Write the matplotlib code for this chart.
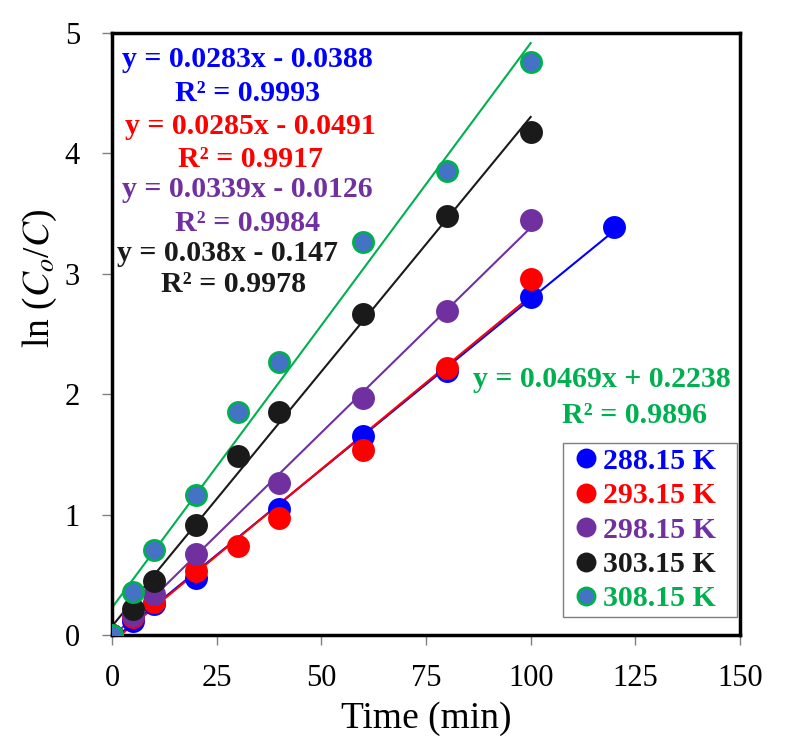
import numpy as np
import matplotlib
matplotlib.use("Agg")
import matplotlib.pyplot as plt

plt.rcParams['font.family'] = ['Liberation Serif', 'DejaVu Serif']
plt.rcParams['mathtext.fontset'] = 'stix'

# Data
labels = ["288.15 K", "293.15 K", "298.15 K", "303.15 K", "308.15 K"]

t_288 = [0, 5, 10, 20, 40, 60, 80, 100, 120]
y_288 = [0, 0.12, 0.26, 0.47, 1.05, 1.65, 2.19, 2.81, 3.39]

t_293 = [0, 5, 10, 20, 30, 40, 60, 80, 100]
y_293 = [0, 0.15, 0.27, 0.53, 0.74, 0.97, 1.54, 2.22, 2.96]

t_298 = [0, 5, 10, 20, 40, 60, 80, 100]
y_298 = [0, 0.17, 0.34, 0.67, 1.26, 1.97, 2.69, 3.45]

t_303 = [0, 5, 10, 20, 30, 40, 60, 80, 100]
y_303 = [0, 0.22, 0.45, 0.91, 1.49, 1.85, 2.67, 3.48, 4.18]

t_308 = [0, 5, 10, 20, 30, 40, 60, 80, 100]
y_308 = [0, 0.36, 0.71, 1.16, 1.85, 2.27, 3.26, 3.85, 4.76]

equations = ["y = 0.0283x - 0.0388", "y = 0.0285x - 0.0491", "y = 0.0339x - 0.0126",
             "y = 0.038x - 0.147", "y = 0.0469x + 0.2238"]
r2_labels = ["R² = 0.9993", "R² = 0.9917", "R² = 0.9984", "R² = 0.9978", "R² = 0.9896"]

colors = ["#0000FF", "#FF0000", "#7030A0", "#1A1A1A", "#00B050"]
faces = ["#0000FF", "#FF0000", "#7030A0", "#1A1A1A", "#4472C4"]

series = [(t_288, y_288), (t_293, y_293), (t_298, y_298), (t_303, y_303), (t_308, y_308)]

fig = plt.figure(figsize=(7.85, 7.53), dpi=100)
ax = fig.add_axes([0.1427, 0.1567, 0.80, 0.7995])

# trend lines first, then markers
for (t, y), c in zip(series, colors):
    k, b = np.polyfit(t, y, 1)
    xx = np.array([0, max(t)])
    ax.plot(xx, k * xx + b, color=c, lw=1.5, zorder=2)

for (t, y), c, f, lab in zip(series, colors, faces, labels):
    ax.plot(t, y, 'o', ms=14.5, mfc=f, mec=c, mew=2, label=lab, zorder=3)

# equations
eq_pos = [(32.3, 4.78), (33.0, 4.22), (32.3, 3.70), (27.5, 3.17), (117.0, 2.12)]
r2_pos = [(32.3, 4.50), (33.0, 3.95), (32.3, 3.42), (29.0, 2.91), (124.7, 1.82)]
for eq, r2, c, p1, p2 in zip(equations, r2_labels, colors, eq_pos, r2_pos):
    ax.text(p1[0], p1[1], eq, color=c, fontsize=21.5, fontweight='bold', ha='center', va='center')
    ax.text(p2[0], p2[1], r2, color=c, fontsize=21.5, fontweight='bold', ha='center', va='center')

ax.set_xlim(0, 150)
ax.set_ylim(0, 5)
ax.set_xticks([0, 25, 50, 75, 100, 125, 150])
ax.set_yticks([0, 1, 2, 3, 4, 5])
ax.tick_params(direction='out', length=7, width=1, color='#808080', labelsize=22)
ax.tick_params(axis='x', pad=14)
ax.tick_params(axis='y', pad=16)
for s in ax.spines.values():
    s.set_linewidth(2.5)

ax.set_xlabel("Time (min)", fontsize=27, labelpad=6)
ax.set_ylabel(r"ln ($C_o$/$C$)", fontsize=27)
ax.yaxis.set_label_coords(-0.085, 0.593)

leg = ax.legend(loc='lower left', bbox_to_anchor=(0.718, 0.03, 0.277, 0.3), mode='expand',
                prop={'weight': 'bold', 'size': 21.5}, markerscale=0.85,
                handletextpad=-0.05, handlelength=1.25, labelspacing=0.25,
                frameon=True, fancybox=False, edgecolor='#7F7F7F', framealpha=1,
                borderpad=0.15, borderaxespad=0.0, labelcolor='markeredgecolor')
leg.get_frame().set_linewidth(1.0)

fig.savefig("out.png", dpi=100)
